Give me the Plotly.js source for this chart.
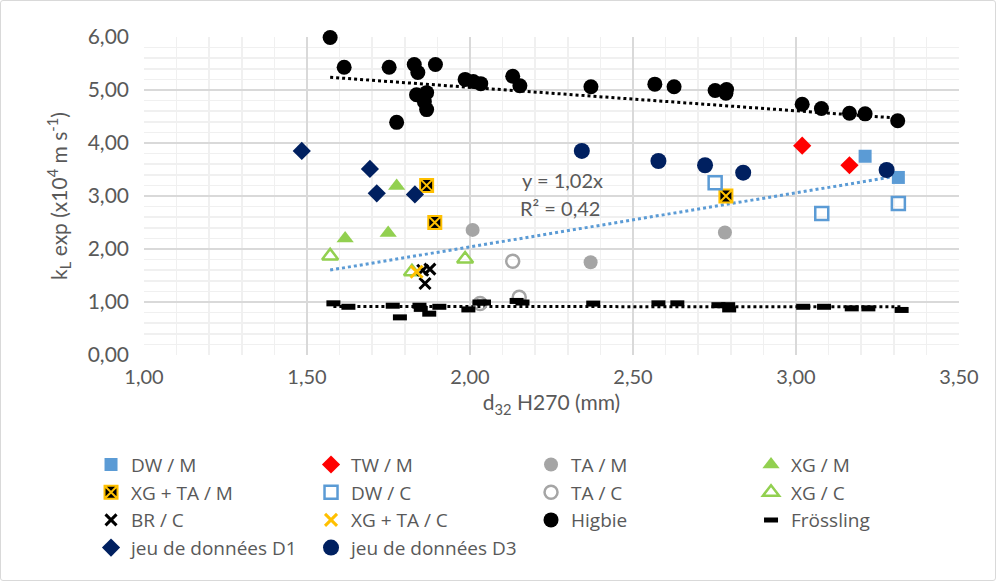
<!DOCTYPE html>
<html>
<head>
<meta charset="utf-8">
<script src="https://cdn.plot.ly/plotly-3.0.1.min.js"></script>
<style>
  html, body { margin: 0; padding: 0; background: #fff; }
  #chart { width: 996px; height: 581px; position: relative; }
  #frame { position: absolute; left: 0; top: 0; width: 994px; height: 579px; border: 1px solid #d9d9d9; border-radius: 3px; pointer-events: none; }
</style>
</head>
<body>
<div id="chart"><div id="frame"></div></div>
<script>
// ---------- data ----------
const dwM_x = [3.212, 3.314];
const dwM_y = [3.75, 3.35];
const twM_x = [3.019, 3.164];
const twM_y = [3.95, 3.58];
const taM_x = [2.008, 2.370, 2.782];
const taM_y = [2.36, 1.75, 2.31];
const xgM_x = [1.617, 1.749, 1.775];
const xgM_y = [2.20, 2.30, 3.19];
const xgtaM_x = [1.867, 1.892, 2.785];
const xgtaM_y = [3.20, 2.50, 3.00];
const dwC_x = [2.752, 3.079, 3.314];
const dwC_y = [3.25, 2.67, 2.86];
const taC_x = [2.131, 2.031, 2.151];
const taC_y = [1.77, 0.97, 1.09];
const xgC_x = [1.571, 1.985, 1.822];
const xgC_y = [1.87, 1.81, 1.57];
const brC_x = [1.855, 1.877, 1.862];
const brC_y = [1.60, 1.62, 1.35];
const xgtaC_x = [1.836];
const xgtaC_y = [1.57];
const higbie_x = [1.571, 1.614, 1.752, 1.829, 1.840, 1.894, 1.836, 1.867, 1.860, 1.867, 1.775,
                  1.985, 2.010, 2.033, 2.131, 2.153, 2.371, 2.567, 2.626, 2.752, 2.787, 2.785,
                  3.019, 3.078, 3.164, 3.212, 3.312];
const higbie_y = [5.99, 5.43, 5.43, 5.48, 5.33, 5.48, 4.91, 4.95, 4.78, 4.63, 4.39,
                  5.20, 5.16, 5.12, 5.26, 5.08, 5.06, 5.11, 5.06, 4.99, 5.01, 4.94,
                  4.73, 4.65, 4.56, 4.55, 4.42];
const fross_x = [1.581, 1.627, 1.763, 1.785, 1.845, 1.849, 1.875, 1.906, 1.995, 2.029, 2.043,
                 2.143, 2.161, 2.378, 2.578, 2.636, 2.762, 2.792, 2.795, 3.022, 3.086, 3.171,
                 3.222, 3.324];
const fross_y = [0.975, 0.91, 0.93, 0.71, 0.93, 0.87, 0.78, 0.91, 0.86, 0.99, 0.99,
                 1.02, 0.99, 0.97, 0.975, 0.975, 0.94, 0.94, 0.86, 0.91, 0.91, 0.88,
                 0.88, 0.85];
const d1_x = [1.484, 1.693, 1.714, 1.831];
const d1_y = [3.85, 3.51, 3.05, 3.03];
const d3_x = [2.343, 2.578, 2.721, 2.838, 3.278];
const d3_y = [3.85, 3.66, 3.58, 3.44, 3.49];
// trend-line coefficients (y = a + b·x)
const trendSlope = 1.02;              // from the label "y = 1,02x" (through origin)
const higbieTrend = { a: 5.935, b: -0.4425 };
const frossTrend = { a: 0.925, b: -0.005 };
const trendLabel = ["y = 1,02x", "R² = 0,42"];
const xTicks = [1.0, 1.5, 2.0, 2.5, 3.0, 3.5];
const yTicks = [0, 1, 2, 3, 4, 5, 6];

// ---------- helpers ----------
function trendLine(xs, t) {
  const x0 = Math.min(...xs), x1 = Math.max(...xs);
  return { x: [x0, x1], y: [t.a + t.b * x0, t.a + t.b * x1] };
}
const expX = [].concat(dwM_x, twM_x, taM_x, xgM_x, xgtaM_x, dwC_x, taC_x, xgC_x, brC_x, xgtaC_x);
const expLine = trendLine(expX, { a: 0, b: trendSlope });
const higFit = trendLine(higbie_x, higbieTrend);
const froFit = trendLine(fross_x, frossTrend);

const blue = '#5b9bd5';
const FONT = 'Lato, "Open Sans", sans-serif';
const LFONT = '"Open Sans", Lato, sans-serif';
const GRAY = '#595959';

function sc(name, xs, ys, marker) {
  return { type: 'scatter', mode: 'markers', name: name, x: xs, y: ys, marker: marker, cliponaxis: false };
}

const traces = [
  { type: 'scatter', mode: 'lines', x: expLine.x, y: expLine.y,
    line: { color: blue, width: 3, dash: 'dot' }, showlegend: false, hoverinfo: 'skip' },
  { type: 'scatter', mode: 'lines', x: higFit.x, y: higFit.y,
    line: { color: '#000', width: 3, dash: 'dot' }, showlegend: false, hoverinfo: 'skip' },
  { type: 'scatter', mode: 'lines', x: froFit.x, y: froFit.y,
    line: { color: '#000', width: 3, dash: 'dot' }, showlegend: false, hoverinfo: 'skip' },

  sc('DW / M', dwM_x, dwM_y, { symbol: 'square', size: 13, color: blue }),
  sc('TW / M', twM_x, twM_y, { symbol: 'diamond', size: 14, color: '#ff0000' }),
  sc('TA / M', taM_x, taM_y, { symbol: 'circle', size: 14, color: '#a5a5a5' }),
  sc('XG / M', xgM_x, xgM_y, { symbol: 'triangle-up', size: 15, color: '#92d050' }),
  sc('XG + TA / M', xgtaM_x, xgtaM_y, { symbol: 'square-x', size: 13, color: '#000', line: { color: '#ffc000', width: 2 } }),
  sc('DW / C', dwC_x, dwC_y, { symbol: 'square-open', size: 13, color: blue, line: { color: blue, width: 2.5 } }),
  sc('TA / C', taC_x, taC_y, { symbol: 'circle-open', size: 13, color: '#a5a5a5', line: { color: '#a5a5a5', width: 2.5 } }),
  sc('XG / C', xgC_x, xgC_y, { symbol: 'triangle-up-open', size: 14, color: '#92d050', line: { color: '#92d050', width: 2.5 } }),
  sc('BR / C', brC_x, brC_y, { symbol: 'x-thin-open', size: 11, color: '#000', line: { color: '#000', width: 3 } }),
  sc('XG + TA / C', xgtaC_x, xgtaC_y, { symbol: 'x-thin-open', size: 12, color: '#ffc000', line: { color: '#ffc000', width: 3 } }),
  sc('Higbie', higbie_x, higbie_y, { symbol: 'circle', size: 15, color: '#000' }),
  sc('Frössling', fross_x, fross_y, { symbol: 'line-ew-open', size: 10, color: '#000', line: { color: '#000', width: 6 } }),
  sc('jeu de données D1', d1_x, d1_y, { symbol: 'diamond', size: 14, color: '#002060' }),
  sc('jeu de données D3', d3_x, d3_y, { symbol: 'circle', size: 16, color: '#002060' })
];

const layout = {
  width: 996, height: 581,
  margin: { l: 144, r: 37, t: 37, b: 226, autoexpand: false },
  paper_bgcolor: 'rgba(0,0,0,0)', plot_bgcolor: '#fff',
  separators: ', ',
  font: { family: FONT, size: 20, color: GRAY },
  showlegend: true,
  xaxis: {
    range: [1, 3.5], tickvals: xTicks, tickformat: '.2f', showline: false, zeroline: false,
    gridcolor: '#d9d9d9', gridwidth: 1.5, ticks: '', ticklabelstandoff: 8,
    tickfont: { family: FONT, size: 20, color: GRAY },
    minor: { dtick: 0.1, showgrid: true, gridcolor: '#f0f0f0', gridwidth: 1.5 },
    title: { text: 'd<sub>32</sub> H270 (mm)', font: { family: FONT, size: 21, color: GRAY }, standoff: 8 },
    automargin: false
  },
  yaxis: {
    range: [0, 6], tickvals: yTicks, tickformat: '.2f', showline: false, zeroline: false,
    gridcolor: '#d9d9d9', gridwidth: 1.5, ticks: '', ticklabelstandoff: 14,
    tickfont: { family: FONT, size: 21, color: GRAY },
    minor: { dtick: 0.2, showgrid: true, gridcolor: '#f0f0f0', gridwidth: 1.5 },
    title: { text: 'k<sub>L</sub> exp (x10<sup>4</sup> m s<sup>-1</sup>)', font: { family: FONT, size: 21, color: GRAY }, standoff: 14 },
    automargin: false
  },
  legend: {
    orientation: 'h', x: -0.065, xanchor: 'left', y: -0.285, yanchor: 'top',
    entrywidth: 175, entrywidthmode: 'pixels', tracegroupgap: 0,
    font: { family: LFONT, size: 19, color: GRAY }
  },
  annotations: [
    { xref: 'paper', yref: 'paper', x: 0.513, y: 0.550, xanchor: 'center', yanchor: 'middle',
      text: trendLabel[0], showarrow: false, font: { family: FONT, size: 20, color: GRAY } },
    { xref: 'paper', yref: 'paper', x: 0.510, y: 0.462, xanchor: 'center', yanchor: 'middle',
      text: trendLabel[1], showarrow: false, font: { family: FONT, size: 20, color: GRAY } }
  ]
};

Plotly.newPlot('chart', traces, layout, { displayModeBar: false, staticPlot: true });
</script>
</body>
</html>
